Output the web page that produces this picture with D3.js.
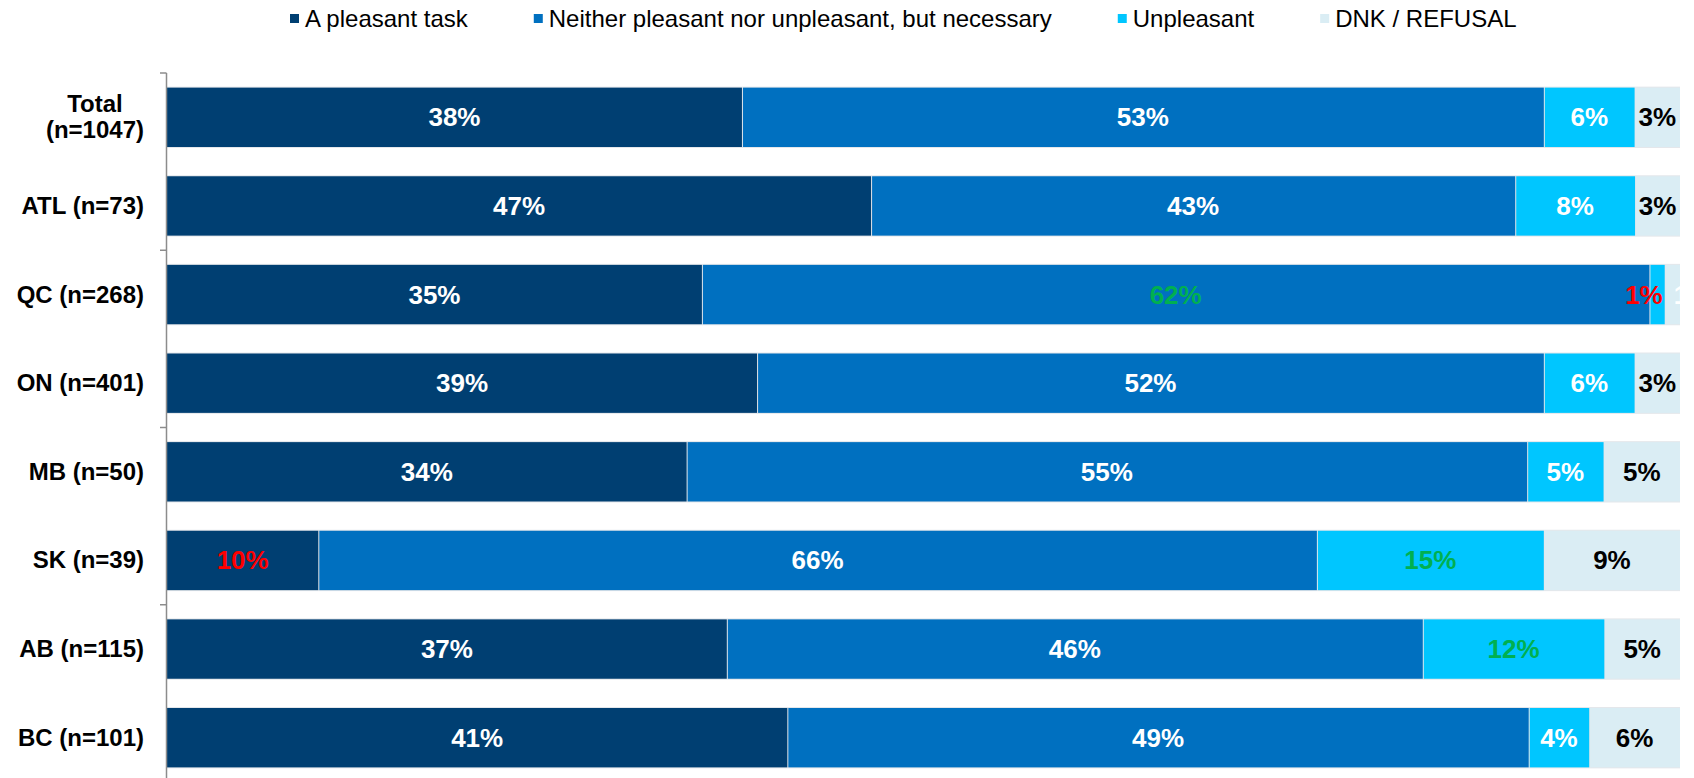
<!DOCTYPE html>
<html>
<head>
<meta charset="utf-8">
<script src="https://cdn.jsdelivr.net/npm/d3@7"></script>
<style>
  html, body { margin: 0; padding: 0; background: #fff; }
  svg { display: block; font-family: "Liberation Sans", Arial, sans-serif; }
</style>
</head>
<body>
<svg id="chart" width="1694" height="778"></svg>
<script>
// Regions (label lines) and the share of answers per response option, in %
const categories = [["Total", "(n=1047)"], ["ATL (n=73)"], ["QC (n=268)"], ["ON (n=401)"],
                    ["MB (n=50)"], ["SK (n=39)"], ["AB (n=115)"], ["BC (n=101)"]];
const seriesNames = ["A pleasant task", "Neither pleasant nor unpleasant, but necessary", "Unpleasant", "DNK / REFUSAL"];
const pleasant   = [38, 47, 35, 39, 34, 10, 37, 41];
const neither    = [53, 43, 62, 52, 55, 66, 46, 49];
const unpleasant = [6, 8, 1, 6, 5, 15, 12, 4];
const dnk        = [3, 3, 1, 3, 5, 9, 5, 6];
// Significance vs. total: "high" (green) / "low" (red)
const pleasantSig   = ["", "", "", "", "", "low", "", ""];
const neitherSig    = ["", "", "high", "", "", "", "", ""];
const unpleasantSig = ["", "", "low", "", "", "high", "high", ""];
const dnkSig        = ["", "", "", "", "", "", "", ""];

const colors = ["#003f72", "#0070c0", "#00c6ff", "#daedf4"];
const labelColors = ["#ffffff", "#ffffff", "#ffffff", "#000000"];
const sigColors = { high: "#00b050", low: "#ff0000" };

const seriesValues = [pleasant, neither, unpleasant, dnk];
const seriesSig = [pleasantSig, neitherSig, unpleasantSig, dnkSig];

const svg = d3.select("#chart");
const margin = { left: 167, right: 14, top: 73, bottom: -4 };
const W = 1694, H = 778;

// Build rows: each bar is normalised to its own sum
const rows = categories.map((c, i) => {
  const vals = seriesValues.map(s => s[i]);
  const sum = d3.sum(vals);
  let acc = 0;
  const segs = vals.map((v, k) => {
    const s = { key: k, value: v, x0: acc / sum, x1: (acc + v) / sum, sig: seriesSig[k][i] };
    acc += v;
    return s;
  });
  return { idx: i, lines: c, segs };
});

const x = d3.scaleLinear().domain([0, 1]).range([margin.left, W - margin.right]);
const y = d3.scaleBand().domain(d3.range(categories.length))
  .range([margin.top, H - margin.bottom]).paddingInner(0.33).paddingOuter(0.165);

svg.append("defs").append("clipPath").attr("id", "plotClip")
  .append("rect").attr("x", x(0)).attr("y", 0).attr("width", x(1) - x(0)).attr("height", H);

// Bars
const plot = svg.append("g").attr("clip-path", "url(#plotClip)");
const rowG = plot.selectAll("g.row").data(rows).join("g").attr("class", "row");

rowG.append("rect")
  .attr("x", x(0) - 0.5).attr("y", d => y(d.idx) - 1)
  .attr("width", x(1) - x(0) + 1).attr("height", y.bandwidth() + 2)
  .attr("fill", "#e4e7eb");

rowG.selectAll("rect.seg").data(d => d.segs.map(s => ({ ...s, row: d.idx })))
  .join("rect").attr("class", "seg")
  .attr("x", d => x(d.x0) + (d.key > 0 ? 1 : 0))
  .attr("y", d => y(d.row))
  .attr("width", d => Math.max(0, x(d.x1) - x(d.x0) - (d.key > 0 ? 1 : 0)))
  .attr("height", y.bandwidth())
  .attr("fill", d => colors[d.key]);

// Value labels
rowG.selectAll("text.val").data(d => d.segs.map(s => ({ ...s, row: d.idx })))
  .join("text").attr("class", "val")
  .attr("font-size", 26).attr("font-weight", "bold")
  .attr("y", d => y(d.row) + y.bandwidth() / 2 + 9)
  .text(d => d.value + "%")
  .each(function (d) {
    const t = d3.select(this);
    const tw = this.getComputedTextLength();
    const a = x(d.x0), b = x(d.x1);
    let fill = d.sig ? sigColors[d.sig] : labelColors[d.key];
    if (b - a >= tw + 4) {
      t.attr("x", (a + b) / 2).attr("text-anchor", "middle");
    } else if (d.key === seriesValues.length - 1) {
      t.attr("x", a + 9).attr("text-anchor", "start");
      if (!d.sig) fill = "#ffffff";
    } else {
      t.attr("x", b - 2).attr("text-anchor", "end");
    }
    t.attr("fill", fill);
  });

// Category axis: vertical line with ticks every two bands
const axisG = svg.append("g");
axisG.append("line")
  .attr("x1", x(0) - 0.5).attr("x2", x(0) - 0.5)
  .attr("y1", margin.top).attr("y2", H)
  .attr("stroke", "#8c8c8c").attr("stroke-width", 1.5);
const tickYs = d3.range(0, categories.length + 1, 2).map(i =>
  i < categories.length ? y(i) - y.step() * y.paddingInner() / 2 - (i === 0 ? y.step() * (y.paddingOuter() - y.paddingInner() / 2) : 0)
                        : y(i - 1) + y.bandwidth() + y.step() * y.paddingOuter());
axisG.selectAll("line.tick").data(tickYs).join("line").attr("class", "tick")
  .attr("x1", x(0) - 7).attr("x2", x(0) - 0.5)
  .attr("y1", d => d).attr("y2", d => d)
  .attr("stroke", "#8c8c8c").attr("stroke-width", 1.5);

// Category labels: right-aligned block, multi-line labels centred within it
const labelRight = 144;
const catG = svg.append("g").selectAll("g.cat").data(rows).join("g").attr("class", "cat");
catG.each(function (d) {
  const g = d3.select(this);
  const lh = 26;
  const cy = y(d.idx) + y.bandwidth() / 2;
  const texts = d.lines.map((ln, j) => g.append("text")
    .attr("font-size", 24).attr("font-weight", "bold").attr("fill", "#000")
    .attr("y", cy + 8 + (j - (d.lines.length - 1) / 2) * lh)
    .text(ln));
  const widths = texts.map(t => t.node().getComputedTextLength());
  const maxW = d3.max(widths);
  texts.forEach(t => t.attr("x", labelRight - maxW / 2).attr("text-anchor", "middle"));
});

// Legend
const legendG = svg.append("g");
const legendFont = 24;
let lx = 290;
const legendGap = 66;
seriesNames.forEach((name, k) => {
  legendG.append("rect").attr("x", lx).attr("y", 14).attr("width", 9).attr("height", 9)
    .attr("fill", colors[k]);
  const t = legendG.append("text").attr("x", lx + 15).attr("y", 27)
    .attr("font-size", legendFont).attr("fill", "#000").text(name);
  lx += 15 + t.node().getComputedTextLength() + legendGap;
});
</script>
</body>
</html>
